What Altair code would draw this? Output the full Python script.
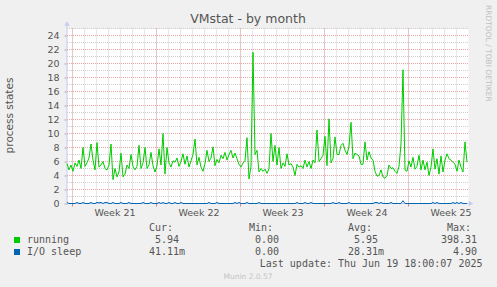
import json
import altair as alt
import pandas as pd

# ---------------- data ----------------
running = [
    5.7, 4.8, 5.5, 4.6, 5.8, 5.3, 6.2, 5.0, 8.0, 5.3,
    5.8, 6.5, 8.5, 6.2, 4.8, 8.7, 5.2, 5.5, 6.0, 5.0,
    4.8, 5.5, 8.5, 3.4, 5.0, 3.8, 4.5, 7.2, 3.8, 4.2,
    5.5, 5.0, 7.0, 5.3, 4.8, 5.3, 8.3, 5.0, 5.8, 8.0,
    5.0, 5.5, 7.3, 5.4, 4.5, 5.4, 7.8, 5.5, 10.0, 4.2,
    8.0, 5.8, 5.2, 6.1, 5.9, 6.5, 5.3, 6.0, 7.1, 5.6,
    6.8, 5.2, 6.1, 7.0, 9.2, 5.5, 6.6, 5.2, 4.6, 5.7,
    7.6, 6.0, 6.5, 8.1, 5.4, 6.3, 5.8, 6.9, 6.4, 7.3,
    6.2, 7.0, 7.6, 6.5, 7.2, 6.4, 5.6, 5.2, 5.8, 6.1,
    9.4, 3.5, 5.3, 21.6, 7.0, 7.6, 4.5, 5.0, 4.6, 4.9,
    4.3, 5.0, 10.0, 6.0, 8.3, 5.5, 8.0, 5.0, 5.8, 5.3,
    7.1, 5.5, 5.7, 5.2, 4.0, 5.6, 5.2, 5.4, 5.0, 6.2,
    5.2, 6.0, 5.0, 6.2, 5.8, 10.5, 6.0, 6.4, 6.9, 9.6,
    5.4, 12.1, 5.8, 6.4, 9.5, 7.0, 7.0, 8.3, 8.6, 7.6,
    7.0, 8.2, 11.6, 6.4, 7.2, 7.0, 6.8, 5.6, 5.6, 8.8,
    6.2, 7.4, 6.5, 6.2, 4.6, 3.9, 4.0, 4.8, 3.8, 3.6,
    4.0, 5.5, 5.0, 5.1, 4.6, 4.3, 5.3, 8.5, 19.1, 4.8,
    4.6, 6.1, 5.2, 6.6, 4.9, 5.3, 6.9, 4.8, 6.2, 4.8,
    5.9, 4.0, 5.2, 7.8, 4.9, 6.4, 4.2, 6.8, 4.5, 6.2,
    7.1, 6.4, 6.2, 5.9, 5.6, 4.6, 6.2, 5.2, 4.5, 8.8,
    5.9,
]
io_sleep = [
    0.15, 0, 0, 0, 0, 0.15, 0, 0, 0.15, 0, 0, 0, 0.15, 0, 0, 0.15, 0.1, 0.15, 0, 0.15,
    0.15, 0, 0, 0.15, 0, 0, 0, 0.15, 0, 0, 0, 0.15, 0, 0, 0, 0, 0, 0, 0.15, 0,
    0, 0, 0.15, 0, 0, 0, 0.15, 0, 0.15, 0, 0, 0.15, 0, 0, 0.15, 0, 0, 0.15, 0, 0,
    0, 0, 0, 0, 0, 0, 0, 0, 0, 0, 0, 0.15, 0, 0, 0, 0.15, 0, 0, 0, 0,
    0, 0, 0, 0, 0.15, 0, 0.15, 0, 0, 0, 0.15, 0, 0, 0, 0, 0, 0.15, 0, 0, 0,
    0, 0, 0, 0, 0, 0, 0, 0, 0, 0, 0, 0, 0, 0, 0, 0.15, 0, 0, 0, 0.15,
    0, 0, 0.15, 0, 0, 0, 0, 0, 0, 0, 0, 0, 0, 0.15, 0, 0, 0.15, 0, 0, 0,
    0, 0.15, 0, 0, 0, 0, 0, 0, 0, 0, 0, 0, 0, 0, 0.15, 0.15, 0, 0.15, 0, 0,
    0, 0, 0.15, 0, 0, 0, 0, 0, 0.4, 0, 0, 0, 0, 0, 0, 0, 0, 0, 0, 0,
    0, 0, 0, 0.15, 0, 0.15, 0, 0, 0, 0, 0, 0, 0, 0.15, 0, 0.15, 0, 0.15, 0, 0,
    0,
]
week_labels = ["Week 21", "Week 22", "Week 23", "Week 24", "Week 25"]
y_label_values = [0, 2, 4, 6, 8, 10, 12, 14, 16, 18, 20, 22, 24]
y_minor_values = list(range(1, 26))
y_major_values = list(range(2, 26, 2))
series_names = ["running", "I/O sleep"]
legend_headers = ["Cur:", "Min:", "Avg:", "Max:"]
legend_running = ["5.94", "0.00", "5.95", "398.31"]
legend_io = ["41.11m", "0.00", "28.31m", "4.90"]
title_text = "VMstat - by month"
y_title = "process states"
last_update = "Last update: Thu Jun 19 18:00:07 2025"
footer = "Munin 2.0.57"
side_text = "RRDTOOL / TOBI OETIKER"

# ---------------- time grid ----------------
SAMPLES_PER_DAY = 6          # one sample every 4 hours
X_SPAN = 401 / 12            # days shown
FIRST_MONDAY = 5.5 / 12      # day offset of first week boundary
N_DAYS = 33

t = [i / SAMPLES_PER_DAY for i in range(len(running))]
df = pd.DataFrame({"t": t, "running": running, "io": io_sleep})
day_df = pd.DataFrame({"d": [FIRST_MONDAY + k for k in range(N_DAYS)]})
week_df = pd.DataFrame({"d": [FIRST_MONDAY + 7 * k for k in range(len(week_labels))]})
label_pos = [FIRST_MONDAY + 3.5 + 7 * k for k in range(len(week_labels))]
ymin_df = pd.DataFrame({"v": y_minor_values})
ymaj_df = pd.DataFrame({"v": y_major_values})

# ---------------- layout ----------------
W, H = 401, 175
PAD_L, PAD_T = 67, 28.5
GREEN, BLUE = "#00cc00", "#0066b3"
TXT = "#555555"
AXIS_C = "#c4ccf0"
MINOR_C = "#cfcfcf"
MAJOR_C = "#eba5a5"

xs = alt.Scale(domain=[0, X_SPAN], nice=False, zero=False)
ys = alt.Scale(domain=[0, 25], nice=False, zero=True)

x_axis = alt.Axis(
    values=label_pos,
    labelExpr=f"{json.dumps(week_labels)}[round((datum.value - {label_pos[0]}) / 7)]",
    grid=False, ticks=False, domain=False, labelPadding=4,
    labelFont="DejaVu Sans", labelFontSize=9.5, labelColor=TXT, title="",
    labelFlush=False,
)
y_axis = alt.Axis(
    values=y_label_values, grid=False, domain=False, tickSize=3, tickColor="#aaaaaa",
    labelPadding=5, labelFont="DejaVu Sans", labelFontSize=9.5, labelColor=TXT, title="",
)

one = pd.DataFrame({"a": [0]})


def text(s, x, y, size=10, color=TXT, font="DejaVu Sans", align="left",
         baseline="middle", angle=0):
    kw = dict(text=s, fontSize=size, color=color, font=font, align=align, baseline=baseline)
    if angle:
        kw["angle"] = angle
    return alt.Chart(one).mark_text(**kw).encode(x=alt.value(x), y=alt.value(y))


vgrid_minor = alt.Chart(day_df).mark_rule(color=MINOR_C, strokeDash=[1, 1], strokeWidth=1).encode(
    x=alt.X("d:Q", scale=xs, axis=x_axis), y=alt.value(0), y2=alt.value(H))
hgrid_minor = alt.Chart(ymin_df).mark_rule(color=MINOR_C, strokeDash=[1, 1], strokeWidth=1).encode(
    y=alt.Y("v:Q", scale=ys, axis=y_axis), x=alt.value(0), x2=alt.value(W))
vgrid_major = alt.Chart(week_df).mark_rule(color=MAJOR_C, strokeDash=[1, 1], strokeWidth=1).encode(
    x=alt.X("d:Q", scale=xs, axis=x_axis), y=alt.value(0), y2=alt.value(H))
hgrid_major = alt.Chart(ymaj_df).mark_rule(color=MAJOR_C, strokeDash=[1, 1], strokeWidth=1).encode(
    y=alt.Y("v:Q", scale=ys, axis=y_axis), x=alt.value(0), x2=alt.value(W))
week_ticks = alt.Chart(week_df).mark_rule(color="#e08080", strokeWidth=1).encode(
    x=alt.X("d:Q", scale=xs, axis=x_axis), y=alt.value(H), y2=alt.value(H + 3))

y_axis_line = alt.Chart(one).mark_rule(color=AXIS_C, strokeWidth=1).encode(
    x=alt.value(0), y=alt.value(-5), y2=alt.value(H))
x_axis_line = alt.Chart(one).mark_rule(color=AXIS_C, strokeWidth=1).encode(
    x=alt.value(0), x2=alt.value(403), y=alt.value(H))
y_arrow = alt.Chart(one).mark_point(shape="triangle-up", filled=True, size=28, color=AXIS_C, opacity=1).encode(
    x=alt.value(0), y=alt.value(-5))
x_arrow = alt.Chart(one).mark_point(shape="triangle-right", filled=True, size=28, color=AXIS_C, opacity=1).encode(
    x=alt.value(404), y=alt.value(H))

line_run = alt.Chart(df).mark_line(color=GREEN, strokeWidth=1).encode(
    x=alt.X("t:Q", scale=xs, axis=x_axis), y=alt.Y("running:Q", scale=ys, axis=y_axis))
line_io = alt.Chart(df).mark_line(color=BLUE, strokeWidth=1).encode(
    x=alt.X("t:Q", scale=xs, axis=x_axis), y=alt.Y("io:Q", scale=ys, axis=y_axis))

sq_run = alt.Chart(one).mark_rect(color=GREEN).encode(
    x=alt.value(-53), x2=alt.value(-47), y=alt.value(208.5), y2=alt.value(214.5))
sq_io = alt.Chart(one).mark_rect(color=BLUE).encode(
    x=alt.value(-53), x2=alt.value(-47), y=alt.value(220.5), y2=alt.value(226.5))

MONO = "DejaVu Sans Mono"
hdr_x = [82, 182, 281, 380]
run_x = [88, 188, 287, 374]
io_x = [82, 188, 281, 386]

texts = [
    text(title_text, 181, -9.5, size=12.5, align="center"),
    text(y_title, -57, 87, size=10.5, align="center", angle=270),
    text(side_text, 421, -23.5, size=7.5, color="#c0c0c0", align="left", angle=90),
    text(series_names[0], -40, 211.5, font=MONO),
    text(series_names[1], -40, 223.5, font=MONO),
    text(last_update, 415.5, 235, font=MONO, align="right"),
    text(footer, 181, 248, size=7.5, color="#c4c4c4", align="center"),
]
for s, xx in zip(legend_headers, hdr_x):
    texts.append(text(s, xx, 199.5, font=MONO))
for s, xx in zip(legend_running, run_x):
    texts.append(text(s, xx, 211.5, font=MONO))
for s, xx in zip(legend_io, io_x):
    texts.append(text(s, xx, 223.5, font=MONO))

chart = alt.layer(
    vgrid_minor, hgrid_minor, vgrid_major, hgrid_major, week_ticks,
    y_axis_line, x_axis_line, y_arrow, x_arrow,
    line_run, line_io, sq_run, sq_io, *texts,
).properties(
    width=W, height=H,
    autosize=alt.AutoSizeParams(type="none"),
    padding={"left": PAD_L, "top": PAD_T, "right": 497 - PAD_L - W, "bottom": 287 - PAD_T - H},
).configure(
    background="#f0f0f0",
).configure_view(
    fill="white", stroke="transparent",
)

chart.save("out.html", embed_options={"renderer": "svg", "actions": False})
